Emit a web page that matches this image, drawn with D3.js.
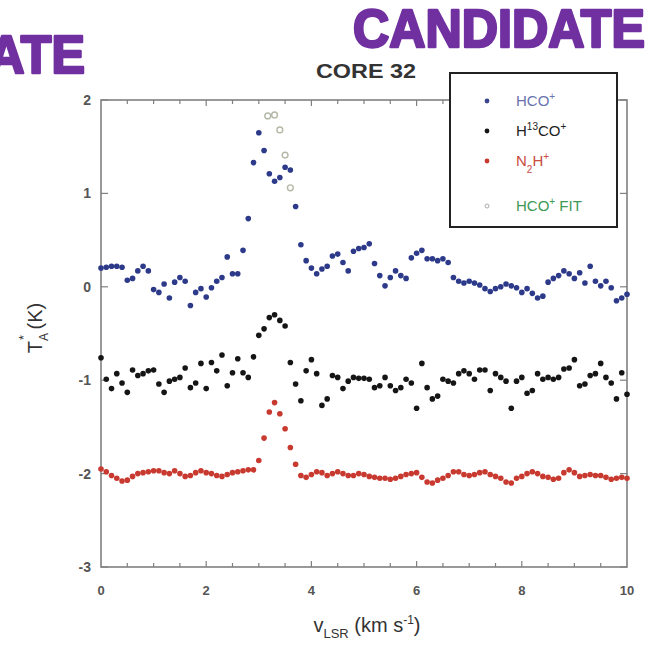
<!DOCTYPE html>
<html>
<head>
<meta charset="utf-8">
<script src="https://cdn.jsdelivr.net/npm/d3@7"></script>
<style>
    body { margin: 0; background: #fff; }
    svg text { font-family: "Liberation Sans", Arial, sans-serif; }
</style>
</head>
<body>
<div id="chart"></div>
<script>
// Channel velocities (km/s)
const velocity = [
    0.0, 0.1, 0.2, 0.3, 0.4, 0.5, 0.6, 0.7, 0.8, 0.9,
    1.0, 1.1, 1.2, 1.3, 1.4, 1.5, 1.6, 1.7, 1.8, 1.9,
    2.0, 2.1, 2.2, 2.3, 2.4, 2.5, 2.6, 2.7, 2.8, 2.9,
    3.0, 3.1, 3.2, 3.3, 3.4, 3.5, 3.6, 3.7, 3.8, 3.9,
    4.0, 4.1, 4.2, 4.3, 4.4, 4.5, 4.6, 4.7, 4.8, 4.9,
    5.0, 5.1, 5.2, 5.3, 5.4, 5.5, 5.6, 5.7, 5.8, 5.9,
    6.0, 6.1, 6.2, 6.3, 6.4, 6.5, 6.6, 6.7, 6.8, 6.9,
    7.0, 7.1, 7.2, 7.3, 7.4, 7.5, 7.6, 7.7, 7.8, 7.9,
    8.0, 8.1, 8.2, 8.3, 8.4, 8.5, 8.6, 8.7, 8.8, 8.9,
    9.0, 9.1, 9.2, 9.3, 9.4, 9.5, 9.6, 9.7, 9.8, 9.9,
    10.0
];

// HCO+ (no offset)
const hcoValues = [
    0.20, 0.21, 0.22, 0.22, 0.21, 0.07, 0.09, 0.17, 0.22, 0.17,
    -0.03, -0.06, 0.03, -0.12, 0.05, 0.10, 0.06, -0.20, -0.06, -0.02,
    -0.11, -0.01, 0.06, 0.10, 0.32, 0.14, 0.14, 0.39, 0.73, 1.33,
    1.65, 1.46, 1.21, 1.13, 1.17, 1.28, 1.25, 0.86, 0.45, 0.28,
    0.20, 0.14, 0.19, 0.22, 0.33, 0.35, 0.26, 0.17, 0.38, 0.41,
    0.42, 0.46, 0.25, 0.12, 0.01, 0.10, 0.17, 0.12, 0.09, 0.31,
    0.36, 0.39, 0.30, 0.30, 0.28, 0.30, 0.26, 0.10, 0.06, 0.04,
    0.06, 0.04, 0.02, -0.02, -0.05, -0.02, 0.00, 0.03, 0.01, -0.01,
    -0.06, -0.02, -0.07, -0.12, -0.10, 0.05, 0.09, 0.12, 0.17, 0.14,
    0.09, 0.15, 0.04, 0.22, 0.06, 0.01, 0.06, -0.01, -0.15, -0.12,
    -0.08
];

// H13CO+ (offset by -1 K)
const h13coValues = [
    -0.76, -0.99, -1.09, -0.93, -1.03, -1.13, -0.89, -0.95, -0.93, -0.90,
    -0.89, -1.04, -1.13, -1.01, -0.99, -0.97, -0.87, -1.08, -1.03, -0.82,
    -1.09, -0.81, -0.90, -0.73, -1.06, -0.92, -0.77, -0.92, -0.97, -0.75,
    -0.52, -0.45, -0.33, -0.30, -0.36, -0.42, -0.81, -1.04, -1.22, -0.90,
    -0.78, -0.93, -1.27, -1.20, -0.95, -0.97, -1.09, -1.01, -0.97, -0.98,
    -0.98, -0.99, -1.08, -1.06, -0.97, -1.06, -1.11, -1.08, -0.99, -1.03,
    -1.30, -0.82, -1.08, -1.20, -1.17, -0.99, -1.01, -1.03, -0.93, -0.90,
    -0.93, -0.99, -0.89, -0.89, -1.11, -0.93, -0.97, -1.01, -1.30, -1.01,
    -0.97, -1.14, -1.11, -0.93, -0.99, -0.97, -0.99, -0.97, -0.88, -0.87,
    -0.78, -1.06, -1.04, -0.95, -0.93, -0.82, -0.97, -1.03, -1.20, -0.92,
    -1.15
];

// N2H+ (offset by -2 K)
const n2hValues = [
    -1.95, -1.98, -2.02, -2.05, -2.08, -2.07, -2.03, -2.00, -1.99, -1.98,
    -1.97, -1.97, -1.99, -2.00, -1.97, -2.00, -2.03, -2.02, -1.99, -1.97,
    -1.99, -2.00, -2.02, -2.03, -2.01, -1.99, -1.98, -1.97, -1.96, -1.96,
    -1.86, -1.62, -1.34, -1.24, -1.36, -1.52, -1.72, -1.90, -2.02, -2.04,
    -2.01, -1.98, -1.99, -2.02, -2.00, -1.98, -2.00, -2.02, -2.02, -2.00,
    -2.01, -2.03, -2.04, -2.05, -2.05, -2.06, -2.05, -2.03, -2.01, -2.00,
    -1.99, -2.04, -2.09, -2.10, -2.07, -2.05, -2.02, -1.98, -1.98, -2.01,
    -2.02, -2.01, -1.99, -1.98, -2.01, -2.03, -2.05, -2.09, -2.10, -2.05,
    -2.03, -2.00, -1.98, -2.00, -2.03, -2.04, -2.06, -2.05, -1.99, -1.96,
    -1.99, -2.03, -2.02, -2.01, -2.02, -2.02, -2.04, -2.06, -2.05, -2.04,
    -2.05
];

// HCO+ fit points
const fitVelocity = [3.17, 3.3, 3.4, 3.5, 3.6];
const fitValues = [1.83, 1.84, 1.68, 1.41, 1.06];

const yTicks = [2, 1, 0, -1, -2, -3];
const xTicks = [0, 2, 4, 6, 8, 10];
const xMinorTicks = [0.5, 1, 1.5, 2, 2.5, 3, 3.5, 4, 4.5, 5, 5.5, 6, 6.5, 7, 7.5, 8, 8.5, 9, 9.5];

const width = 664;
const height = 650;
const plot = { left: 101, right: 627, top: 100, bottom: 567 };

const svg = d3.select("#chart")
    .append("svg")
    .attr("width", width)
    .attr("height", height);

const x = d3.scaleLinear().domain([0, 10]).range([plot.left, plot.right]);
const y = d3.scaleLinear().domain([-3, 2]).range([plot.bottom, plot.top]);

// Big purple banner words (the left one is cut off by the page edge)
[[645, 47], [85, 73]].forEach(pos => {
    svg.append("text")
        .attr("x", pos[0])
        .attr("y", pos[1])
        .attr("text-anchor", "end")
        .attr("textLength", 292)
        .attr("lengthAdjust", "spacingAndGlyphs")
        .style("font-size", "53px")
        .style("font-weight", "bold")
        .style("fill", "#7030a0")
        .style("stroke", "#7030a0")
        .style("stroke-width", "2.6px")
        .style("stroke-linejoin", "round")
        .text("CANDIDATE");
});

// Title
svg.append("text")
    .attr("x", 366)
    .attr("y", 78)
    .attr("text-anchor", "middle")
    .attr("textLength", 100)
    .attr("lengthAdjust", "spacingAndGlyphs")
    .style("font-size", "21px")
    .style("font-weight", "bold")
    .style("fill", "#333")
    .text("CORE 32");

// Frame
const axisColor = "#808080";
svg.append("rect")
    .attr("x", plot.left)
    .attr("y", plot.top)
    .attr("width", plot.right - plot.left)
    .attr("height", plot.bottom - plot.top)
    .style("fill", "none")
    .style("stroke", axisColor)
    .style("stroke-width", "1.6px");

// Y ticks (left and right, pointing inward)
const ticks = svg.append("g").style("stroke", axisColor).style("stroke-width", "1.2px");
yTicks.forEach(t => {
    ticks.append("line")
        .attr("x1", plot.left).attr("x2", plot.left + 7)
        .attr("y1", y(t)).attr("y2", y(t));
    ticks.append("line")
        .attr("x1", plot.right).attr("x2", plot.right - 7)
        .attr("y1", y(t)).attr("y2", y(t));
});

// X ticks (bottom and top)
xMinorTicks.forEach(t => {
    const len = (t % 2 === 0) ? 6 : 4;
    ticks.append("line")
        .attr("x1", x(t)).attr("x2", x(t))
        .attr("y1", plot.bottom).attr("y2", plot.bottom - len);
    ticks.append("line")
        .attr("x1", x(t)).attr("x2", x(t))
        .attr("y1", plot.top).attr("y2", plot.top + len);
});

// Tick labels
svg.append("g")
    .selectAll("text")
    .data(yTicks)
    .enter()
    .append("text")
    .attr("x", 91)
    .attr("y", d => y(d))
    .attr("dy", "0.35em")
    .attr("text-anchor", "end")
    .style("font-size", "14px")
    .style("font-weight", "bold")
    .style("fill", "#555")
    .text(d => d);

svg.append("g")
    .selectAll("text")
    .data(xTicks)
    .enter()
    .append("text")
    .attr("x", d => x(d))
    .attr("y", 595)
    .attr("text-anchor", "middle")
    .style("font-size", "13px")
    .style("font-weight", "bold")
    .style("fill", "#555")
    .text(d => d);

// Axis titles
const xTitle = svg.append("text")
    .attr("x", 367)
    .attr("y", 632)
    .attr("text-anchor", "middle")
    .style("font-size", "20px")
    .style("fill", "#333");
xTitle.append("tspan").text("v");
xTitle.append("tspan").attr("dy", 6).style("font-size", "13px").text("LSR");
xTitle.append("tspan").attr("dy", -6).text(" (km s");
xTitle.append("tspan").attr("dy", -8).style("font-size", "12px").text("-1");
xTitle.append("tspan").attr("dy", 8).text(")");

const yTitle = svg.append("text")
    .attr("transform", "translate(42,328) rotate(-90)")
    .attr("text-anchor", "middle")
    .style("font-size", "20px")
    .style("fill", "#333");
yTitle.append("tspan").text("T");
yTitle.append("tspan").attr("dy", 6).style("font-size", "12px").text("A");
yTitle.append("tspan").attr("dx", -7).attr("dy", -20).style("font-size", "13px").text("*");
yTitle.append("tspan").attr("dy", 14).text(" (K)");

// Data points
const series = [
    { values: hcoValues, color: "#2d3a8a" },
    { values: h13coValues, color: "#151515" },
    { values: n2hValues, color: "#c8392f" }
];

const points = svg.append("g");
series.forEach(s => {
    points.append("g")
        .selectAll("circle")
        .data(velocity.map((v, i) => ({ v: v, t: s.values[i] })))
        .enter()
        .append("circle")
        .attr("cx", d => x(d.v))
        .attr("cy", d => y(d.t))
        .attr("r", 2.8)
        .style("fill", s.color);
});

points.append("g")
    .selectAll("circle")
    .data(fitVelocity.map((v, i) => ({ v: v, t: fitValues[i] })))
    .enter()
    .append("circle")
    .attr("cx", d => x(d.v))
    .attr("cy", d => y(d.t))
    .attr("r", 2.9)
    .style("fill", "none")
    .style("stroke", "#b4b8a6")
    .style("stroke-width", "1.4px");

// Legend
const legend = svg.append("g");
legend.append("rect")
    .attr("x", 450)
    .attr("y", 73)
    .attr("width", 167)
    .attr("height", 154)
    .style("fill", "#fff")
    .style("stroke", "#222")
    .style("stroke-width", "2px");

const legendRows = [
    { y: 101, color: "#3a4590", textColor: "#6a73b0", parts: [["HCO", 0], ["+", -6]] },
    { y: 131, color: "#151515", textColor: "#222", parts: [["H", 0], ["13", -6], ["CO", 6], ["+", -6]] },
    { y: 161, color: "#c8392f", textColor: "#c94a3e", parts: [["N", 0], ["2", 7], ["H", -7], ["+", -6]] },
    { y: 206, color: null, textColor: "#3d9a55", parts: [["HCO", 0], ["+", -6], [" FIT", 6]] }
];

legendRows.forEach(row => {
    if (row.color) {
        legend.append("circle")
            .attr("cx", 487).attr("cy", row.y).attr("r", 2.4)
            .style("fill", row.color);
    } else {
        legend.append("circle")
            .attr("cx", 487).attr("cy", row.y).attr("r", 2)
            .style("fill", "none")
            .style("stroke", "#aaa")
            .style("stroke-width", "1px");
    }
    const label = legend.append("text")
        .attr("x", 516)
        .attr("y", row.y + 5)
        .style("font-size", "15px")
        .style("fill", row.textColor);
    row.parts.forEach(p => {
        const small = p[0] === "+" || p[0] === "13" || p[0] === "2";
        label.append("tspan")
            .attr("dy", p[1])
            .style("font-size", small ? "10px" : "15px")
            .text(p[0]);
    });
});
</script>
</body>
</html>
